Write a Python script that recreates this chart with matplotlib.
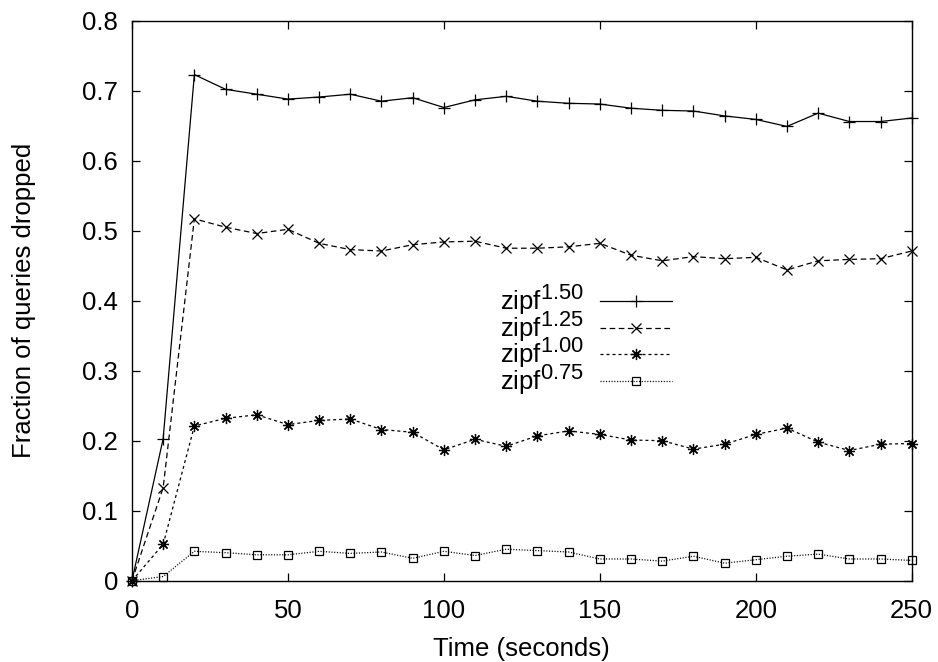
import numpy as np
import matplotlib
matplotlib.use("Agg")
import matplotlib.pyplot as plt
import matplotlib._mathtext as mathtext_internals

# === Data ===
time_s = [0, 10, 20, 30, 40, 50, 60, 70, 80, 90, 100, 110, 120, 130,
          140, 150, 160, 170, 180, 190, 200, 210, 220, 230, 240, 250]

zipf_150 = [0.0, 0.203, 0.723, 0.702, 0.695, 0.688, 0.691, 0.695, 0.685, 0.690,
            0.676, 0.687, 0.692, 0.685, 0.682, 0.681, 0.675, 0.672, 0.671, 0.664,
            0.659, 0.649, 0.668, 0.656, 0.656, 0.661]
zipf_125 = [0.0, 0.133, 0.517, 0.505, 0.496, 0.502, 0.482, 0.473, 0.471, 0.480,
            0.484, 0.485, 0.475, 0.475, 0.477, 0.482, 0.465, 0.457, 0.463, 0.460,
            0.462, 0.444, 0.457, 0.459, 0.460, 0.471]
zipf_100 = [0.0, 0.052, 0.221, 0.232, 0.237, 0.223, 0.229, 0.231, 0.216, 0.212,
            0.187, 0.202, 0.192, 0.207, 0.214, 0.209, 0.201, 0.200, 0.188, 0.195,
            0.209, 0.218, 0.198, 0.186, 0.195, 0.196]
zipf_075 = [0.0, 0.006, 0.042, 0.040, 0.037, 0.037, 0.042, 0.039, 0.041, 0.032,
            0.042, 0.036, 0.045, 0.043, 0.041, 0.031, 0.031, 0.028, 0.035, 0.025,
            0.030, 0.035, 0.038, 0.031, 0.031, 0.029]

labels = [r"zipf$^{1.50}$", r"zipf$^{1.25}$", r"zipf$^{1.00}$", r"zipf$^{0.75}$"]

# === Style ===
plt.rcParams["font.family"] = ["Liberation Sans", "DejaVu Sans"]
plt.rcParams["mathtext.fontset"] = "custom"
plt.rcParams["mathtext.rm"] = "Liberation Sans"
plt.rcParams["mathtext.it"] = "Liberation Sans"
plt.rcParams["mathtext.default"] = "regular"
# gnuplot superscripts are bigger than mathtext's default 0.7
mathtext_internals.SHRINK_FACTOR = 0.85

fs = 18.5

fig = plt.figure(figsize=(9.38, 6.62), dpi=100)
ax = fig.add_axes([0.1407, 0.1228, 0.8313, 0.8459])

lw = 0.9
ax.plot(time_s, zipf_150, color="black", lw=lw, ls="-", marker="+", ms=8,
        mew=0.9, clip_on=False, label=labels[0])
ax.plot(time_s, zipf_125, color="black", lw=lw, ls=(0, (4.5, 2.8)), marker="x", ms=6.5,
        mew=0.9, clip_on=False, label=labels[1])
ax.plot(time_s, zipf_100, color="black", lw=lw, ls=(0, (2.4, 2.4)), marker=(8, 2, 0), ms=8,
        mew=0.9, clip_on=False, label=labels[2])
ax.plot(time_s, zipf_075, color="black", lw=lw, ls=(0, (0.9, 1.3)), marker="s", ms=5.5,
        mew=0.9, mfc="none", clip_on=False, label=labels[3])

ax.set_xlim(0, 250)
ax.set_ylim(0, 0.8)
ax.set_xticks([0, 50, 100, 150, 200, 250])
ax.set_yticks(np.arange(0, 0.81, 0.1))
ax.set_yticklabels(["0", "0.1", "0.2", "0.3", "0.4", "0.5", "0.6", "0.7", "0.8"])

ax.tick_params(direction="in", length=6, width=0.9, labelsize=fs,
               top=True, right=True)
ax.tick_params(axis="y", pad=10)
ax.tick_params(axis="x", pad=13)
for sp in ax.spines.values():
    sp.set_linewidth(1.0)

ax.set_xlabel("Time (seconds)", fontsize=fs, labelpad=10)
ax.set_ylabel("Fraction of queries dropped", fontsize=fs, labelpad=33)

# gnuplot key: text first, sample after, rows packed tightly
leg = ax.legend(loc="center", bbox_to_anchor=(0.582, 0.43), frameon=False,
                markerfirst=False, fontsize=fs, handlelength=2.8,
                handletextpad=0.6, labelspacing=-0.28, borderpad=0)

plt.savefig("out.png", dpi=100)
